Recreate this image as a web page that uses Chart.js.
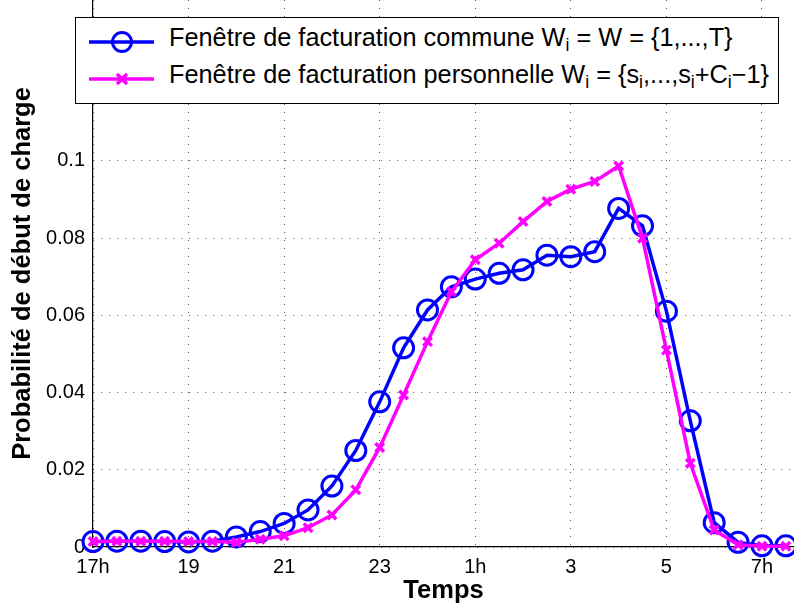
<!DOCTYPE html>
<html>
<head>
<meta charset="utf-8">
<script src="https://cdn.jsdelivr.net/npm/chart.js@4.4.1/dist/chart.umd.min.js"></script>
<style>
  html, body { margin: 0; padding: 0; background: #fff; }
  #wrap { position: relative; width: 794px; height: 607px; overflow: hidden; }
  #legend {
    position: absolute; left: 75px; top: 17px; width: 702px; height: 85px;
    border: 1.3px solid #000; background: #fff;
    font-family: "Liberation Sans", Arial, Helvetica, sans-serif; font-size: 25.3px; color: #000;
  }
  .row { position: absolute; left: 0; height: 36px; width: 100%; }
  .row svg { position: absolute; left: 0; top: 0; }
  .row span { position: absolute; left: 93px; top: 1px; line-height: 25px; white-space: nowrap; }
  sub { font-size: 0.7em; vertical-align: -0.3em; line-height: 0; }
</style>
</head>
<body>
<div id="wrap">
  <canvas id="chart" width="794" height="607"></canvas>
  <div id="legend">
    <div class="row" style="top:6px">
      <svg width="90" height="36"><line x1="13" y1="18" x2="78" y2="18" stroke="#0000ff" stroke-width="3.5"/><circle cx="46" cy="18" r="9.5" fill="none" stroke="#0000ff" stroke-width="3"/></svg>
      <span>Fenêtre de facturation commune W<sub>i</sub> = W = {1,...,T}</span>
    </div>
    <div class="row" style="top:43px">
      <svg width="90" height="36"><line x1="13" y1="18" x2="78" y2="18" stroke="#ff00ff" stroke-width="3.5"/><path d="M41 13 L51 23 M51 13 L41 23" stroke="#ff00ff" stroke-width="3.5"/></svg>
      <span>Fenêtre de facturation personnelle W<sub>i</sub> = {s<sub>i</sub>,...,s<sub>i</sub>+C<sub>i</sub>−1}</span>
    </div>
  </div>
</div>
<script>
// heures écoulées depuis 17h, un point toutes les 30 min
const times = [0, 0.5, 1, 1.5, 2, 2.5, 3, 3.5, 4, 4.5, 5, 5.5, 6, 6.5, 7, 7.5,
  8, 8.5, 9, 9.5, 10, 10.5, 11, 11.5, 12, 12.5, 13, 13.5, 14, 14.5];

const communeValues = [0.0014, 0.0015, 0.0015, 0.0014, 0.0013, 0.0015, 0.0026, 0.0040,
  0.0061, 0.0096, 0.0158, 0.0250, 0.0376, 0.0516, 0.0614, 0.0674, 0.0694, 0.0709,
  0.0718, 0.0756, 0.0752, 0.0765, 0.0877, 0.0832, 0.0611, 0.0327, 0.0063, 0.0012,
  0.0003, 0.0003];

const personnelleValues = [0.0014, 0.0015, 0.0015, 0.0015, 0.0014, 0.0014, 0.0012, 0.0020,
  0.0029, 0.0050, 0.0083, 0.0148, 0.0258, 0.0394, 0.0532, 0.0661, 0.0744, 0.0787,
  0.0843, 0.0895, 0.0927, 0.0947, 0.0987, 0.0800, 0.0510, 0.0217, 0.0044, 0.0006,
  0.0002, 0.0002];

const xTickValues = [0, 2, 4, 6, 8, 10, 12, 14];
const xTickLabels = ["17h", "19", "21", "23", "1h", "3", "5", "7h"];
const yTickValues = [0, 0.02, 0.04, 0.06, 0.08, 0.1];
const yTickLabels = ["0", "0.02", "0.04", "0.06", "0.08", "0.1"];

const toPoints = (vals) => vals.map((v, i) => ({ x: times[i], y: v }));

const fontFamily = '"Liberation Sans", Arial, Helvetica, sans-serif';

new Chart(document.getElementById("chart"), {
  type: "line",
  data: {
    datasets: [
      {
        label: "Fenêtre de facturation commune",
        data: toPoints(communeValues),
        borderColor: "#0000ff",
        borderWidth: 3.5,
        pointStyle: "circle",
        pointRadius: 10,
        pointBorderWidth: 3,
        pointBorderColor: "#0000ff",
        pointBackgroundColor: "rgba(0,0,0,0)",
        tension: 0,
        clip: false,
        order: 2,
      },
      {
        label: "Fenêtre de facturation personnelle",
        data: toPoints(personnelleValues),
        borderColor: "#ff00ff",
        borderWidth: 3.5,
        pointStyle: "crossRot",
        pointRadius: 6,
        pointBorderWidth: 3.5,
        pointBorderColor: "#ff00ff",
        pointBackgroundColor: "#ff00ff",
        tension: 0,
        clip: false,
        order: 1,
      },
    ],
  },
  options: {
    responsive: false,
    animation: false,
    devicePixelRatio: 1,
    layout: { padding: 0, autoPadding: false },
    plugins: {
      legend: { display: false },
      tooltip: { enabled: false },
    },
    scales: {
      x: {
        type: "linear",
        min: 0,
        max: 14.67,
        afterBuildTicks: (scale) => {
          scale.ticks = xTickValues.map((v) => ({ value: v }));
        },
        afterFit: (scale) => {
          scale.height = 60;
          scale.paddingLeft = 0;
          scale.paddingRight = 0;
        },
        ticks: {
          color: "#000",
          font: { family: fontFamily, size: 20 },
          padding: 8,
          maxRotation: 0,
          autoSkip: false,
          callback: (v) => xTickLabels[xTickValues.indexOf(v)],
        },
        grid: {
          color: "rgba(0,0,0,0.65)",
          lineWidth: 1,
          drawTicks: false,
        },
        border: { color: "#000", width: 1.2, dash: [1, 7] },
        title: {
          display: true,
          text: "Temps",
          color: "#000",
          font: { family: fontFamily, size: 25.5, weight: "bold" },
          padding: { top: 0, bottom: 1 },
        },
      },
      y: {
        min: 0,
        max: 0.1417,
        afterBuildTicks: (scale) => {
          scale.ticks = yTickValues.map((v) => ({ value: v }));
        },
        afterFit: (scale) => {
          scale.width = 93;
          scale.paddingTop = 0;
          scale.paddingBottom = 0;
        },
        ticks: {
          color: "#000",
          font: { family: fontFamily, size: 20 },
          padding: 8,
          autoSkip: false,
          callback: (v) => yTickLabels[yTickValues.indexOf(v)],
        },
        grid: {
          color: "rgba(0,0,0,0.65)",
          lineWidth: 1,
          drawTicks: false,
        },
        border: { color: "#000", width: 1.2, dash: [1, 7] },
        title: {
          display: true,
          text: "Probabilité de début de charge",
          color: "#000",
          font: { family: fontFamily, size: 25.5, weight: "bold" },
          padding: { top: 8, bottom: 0 },
        },
      },
    },
  },
});
</script>
</body>
</html>
